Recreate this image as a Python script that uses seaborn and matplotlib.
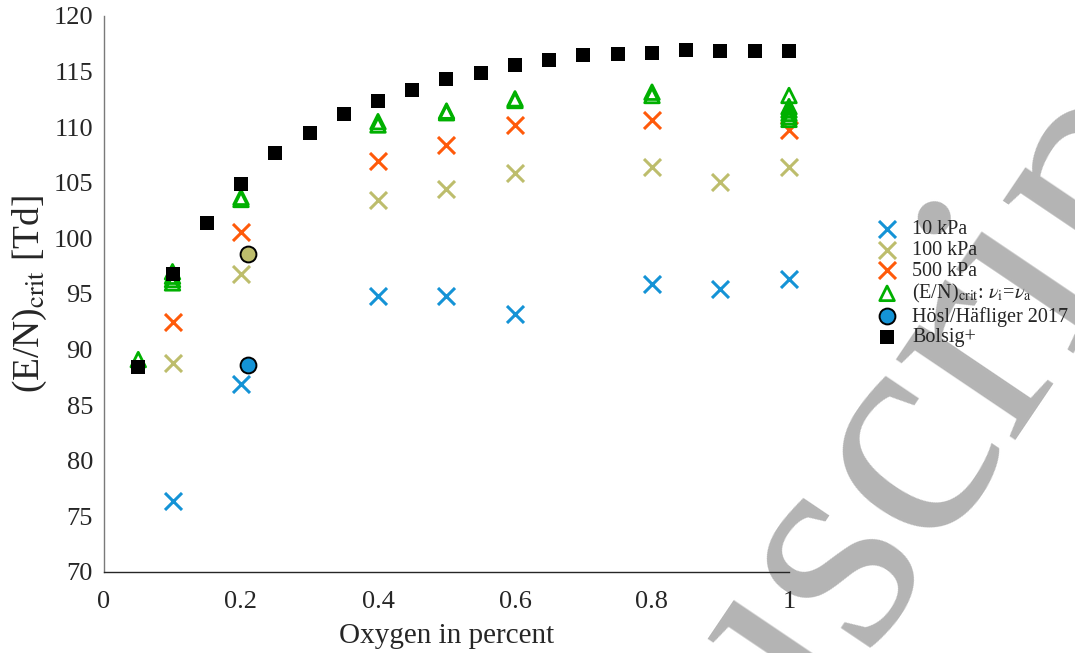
import matplotlib
matplotlib.use("Agg")
import matplotlib.pyplot as plt
import seaborn as sns
import pandas as pd

# ---------------- data ----------------
ox_10 = [0.1, 0.2, 0.4, 0.5, 0.6, 0.8, 0.9, 1.0]
en_10kpa = [76.4, 86.9, 94.8, 94.8, 93.2, 95.9, 95.45, 96.35]

ox_100 = [0.1, 0.2, 0.4, 0.5, 0.6, 0.8, 0.9, 1.0]
en_100kpa = [88.8, 96.8, 103.45, 104.45, 105.85, 106.4, 105.1, 106.4]

ox_500 = [0.1, 0.2, 0.4, 0.5, 0.6, 0.8, 1.0]
en_500kpa = [92.5, 100.6, 107.0, 108.4, 110.2, 110.65, 109.75]

ox_equal = [0.05, 0.1, 0.1, 0.1, 0.1, 0.2, 0.2, 0.4, 0.4, 0.5, 0.5,
            0.6, 0.6, 0.8, 0.8, 1.0, 1.0, 1.0, 1.0, 1.0, 1.0]
en_equal = [89.1, 97.0, 96.6, 96.3, 96.0, 103.7, 103.5, 110.5, 110.2,
            111.45, 111.3, 112.55, 112.4, 113.15, 112.85,
            112.85, 111.85, 111.55, 111.25, 110.95, 110.7]

ox_hosl = [0.21, 0.21]
en_hosl = [88.6, 98.6]

ox_bolsig = [0.05, 0.10, 0.15, 0.20, 0.25, 0.30, 0.35, 0.40, 0.45, 0.50,
             0.55, 0.60, 0.65, 0.70, 0.75, 0.80, 0.85, 0.90, 0.95, 1.00]
en_bolsig = [88.4, 96.8, 101.4, 104.9, 107.7, 109.5, 111.2, 112.4, 113.35, 114.3,
             114.9, 115.6, 116.05, 116.45, 116.6, 116.7, 116.95, 116.85, 116.85, 116.85]

labels = ["10 kPa", "100 kPa", "500 kPa",
          r"(E/N)$_{\mathrm{crit}}$: $\nu_{\mathrm{i}}$=$\nu_{\mathrm{a}}$",
          "Hösl/Häfliger 2017", "Bolsig+"]
x_ticks = [0, 0.2, 0.4, 0.6, 0.8, 1]
x_ticklabels = ["0", "0.2", "0.4", "0.6", "0.8", "1"]
y_ticks = [70, 75, 80, 85, 90, 95, 100, 105, 110, 115, 120]

BLUE = "#1493d6"
OLIVE = "#bdbd6c"
ORANGE = "#ff5a0a"
GREEN = "#00b000"

# ---------------- style ----------------
sns.set_theme(style="white")
plt.rcParams["font.family"] = ["Liberation Serif", "DejaVu Serif"]
plt.rcParams["mathtext.fontset"] = "stix"

fig = plt.figure(figsize=(10.75, 6.53), dpi=100)
fig.patch.set_facecolor("white")
ax = fig.add_axes([104 / 1075, 1 - 572 / 653, 685 / 1075, 556 / 653])
ax.set_facecolor("none")

# watermark
fig.text(0.7358, 0.043, "Manuscript", fontsize=225, color="#b4b4b4",
         rotation=56, rotation_mode="anchor", ha="center", va="center",
         family="Liberation Serif", zorder=-5)

common = dict(ax=ax, clip_on=False)
sns.scatterplot(x=ox_10, y=en_10kpa, marker="x", s=150, color=BLUE,
                linewidth=2.2, label=labels[0], zorder=3, **common)
sns.scatterplot(x=ox_100, y=en_100kpa, marker="x", s=150, color=OLIVE,
                linewidth=2.2, label=labels[1], zorder=3, **common)
sns.scatterplot(x=ox_500, y=en_500kpa, marker="x", s=150, color=ORANGE,
                linewidth=2.2, label=labels[2], zorder=3, **common)
sns.scatterplot(x=ox_equal, y=en_equal, marker="^", s=110, facecolor="none",
                edgecolor=GREEN, linewidth=2.0, label=labels[3], zorder=3, **common)
sns.scatterplot(x=ox_hosl[:1], y=en_hosl[:1], marker="o", s=130, color=BLUE,
                edgecolor="black", linewidth=1.4, label=labels[4], zorder=4, **common)
sns.scatterplot(x=ox_hosl[1:], y=en_hosl[1:], marker="o", s=130, color=OLIVE,
                edgecolor="black", linewidth=1.4, label="_nolegend_", zorder=4, **common)
sns.scatterplot(x=ox_bolsig, y=en_bolsig, marker="s", s=90, color="black",
                edgecolor="black", linewidth=0, label=labels[5], zorder=5, **common)

ax.set_xlim(0, 1)
ax.set_ylim(70, 120)
ax.set_xticks(x_ticks)
ax.set_xticklabels(x_ticklabels)
ax.set_yticks(y_ticks)
ax.tick_params(axis="both", direction="in", length=8, width=1.0,
               labelsize=19, colors="#262626")
ax.tick_params(axis="x", pad=14)
ax.tick_params(axis="y", colors="#6e6e6e", labelcolor="#262626", pad=8)
for side in ["top", "right"]:
    ax.spines[side].set_visible(False)
ax.spines["left"].set_color("#7a7a7a")
ax.spines["bottom"].set_color("#262626")
ax.spines["left"].set_linewidth(1.0)
ax.spines["bottom"].set_linewidth(1.0)

ax.set_xlabel("Oxygen in percent", fontsize=21, color="#262626", labelpad=7)
ax.set_ylabel(r"(E/N)$_{\mathrm{crit}}$ [Td]", fontsize=27, color="#262626", labelpad=3)

leg = ax.legend(loc="upper left", bbox_to_anchor=(876 / 1075, 1 - 220 / 653),
                bbox_transform=fig.transFigure, frameon=False, fontsize=14.5,
                labelspacing=0.08, handletextpad=0.7, handlelength=1.1,
                borderaxespad=0, borderpad=0)

fig.savefig("out.png", dpi=100, facecolor="white")
